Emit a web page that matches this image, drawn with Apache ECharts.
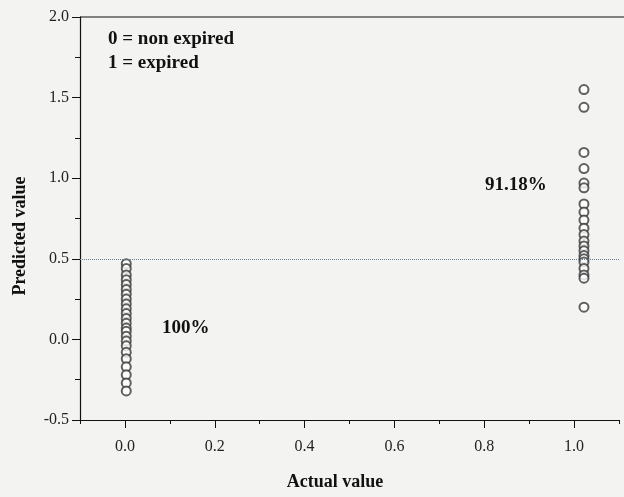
<!DOCTYPE html>
<html>
<head>
<meta charset="utf-8">
<script src="https://cdn.jsdelivr.net/npm/echarts@6/dist/echarts.min.js"></script>
<style>
html,body{margin:0;padding:0;background:#f3f3f1;}
#c{width:624px;height:497px;}
</style>
</head>
<body>
<div id="c"></div>
<script>
// Data
var nonExpiredX = 0.003;
var nonExpiredPred = [0.47, 0.44, 0.40, 0.37, 0.34, 0.31, 0.28, 0.25, 0.22, 0.19, 0.16, 0.13, 0.10, 0.07, 0.05, 0.02, -0.01, -0.04, -0.08, -0.12, -0.17, -0.22, -0.27, -0.32];
var expiredX = 1.022;
var expiredPred = [1.55, 1.44, 1.16, 1.06, 0.97, 0.94, 0.84, 0.79, 0.74, 0.69, 0.65, 0.61, 0.58, 0.55, 0.52, 0.50, 0.48, 0.44, 0.40, 0.38, 0.20];
var xTickLabels = ['0.0', '0.2', '0.4', '0.6', '0.8', '1.0'];
var yTickLabels = ['-0.5', '0.0', '0.5', '1.0', '1.5', '2.0'];
var threshold = 0.5;

var chart = echarts.init(document.getElementById('c'));
var serif = '"Liberation Serif", "DejaVu Serif", serif';

function pts(x, arr){ return arr.map(function(v){ return [x, v]; }); }

// main plot area
var G = {left: 80, right: 5, top: 17, bottom: 77};
var plotW = 624 - G.left - G.right;
var xMin = -0.1, xMax = 1.1;
// secondary grid spanning exactly 0.0 .. 1.0 for the labelled major ticks
var g2left = G.left + (0 - xMin) / (xMax - xMin) * plotW;
var g2width = (1.0 - 0) / (xMax - xMin) * plotW;

chart.setOption({
  backgroundColor: '#f3f3f1',
  animation: false,
  grid: [
    {left: G.left, right: G.right, top: G.top, bottom: G.bottom},
    {left: g2left, width: g2width, top: G.top, bottom: G.bottom}
  ],
  xAxis: [
    {
      gridIndex: 0, type: 'value', min: xMin, max: xMax, interval: 0.1,
      axisLine: {onZero: false, lineStyle: {color: '#111', width: 1.2}},
      axisTick: {show: true, length: 4, lineStyle: {color: '#111'}},
      axisLabel: {show: false},
      splitLine: {show: false}
    },
    {
      gridIndex: 1, type: 'value', min: 0, max: 1, interval: 0.2,
      axisLine: {show: false, onZero: false},
      axisTick: {show: true, length: 8, lineStyle: {color: '#111'}},
      axisLabel: {fontFamily: serif, fontSize: 16, color: '#222', margin: 19,
        formatter: function(v){ return xTickLabels[Math.round(v / 0.2)]; }},
      splitLine: {show: false}
    }
  ],
  yAxis: [
    {
      gridIndex: 0, type: 'value', min: -0.5, max: 2.0, interval: 0.5,
      axisLine: {show: true, onZero: false, lineStyle: {color: '#111', width: 1.2}},
      axisTick: {show: true, length: 8, lineStyle: {color: '#111'}},
      minorTick: {show: true, splitNumber: 2, length: 5, lineStyle: {color: '#111'}},
      axisLabel: {fontFamily: serif, fontSize: 16, color: '#222', margin: 11,
        formatter: function(v){ return yTickLabels[Math.round((v + 0.5) / 0.5)]; }},
      splitLine: {show: false}
    },
    {
      gridIndex: 1, type: 'value', min: -0.5, max: 2.0, show: false
    }
  ],
  series: [
    {
      type: 'scatter', xAxisIndex: 0, yAxisIndex: 0, symbol: 'emptyCircle', symbolSize: 9,
      itemStyle: {color: '#3a3a3a', borderColor: '#3a3a3a', borderWidth: 1},
      data: pts(nonExpiredX, nonExpiredPred),
      markLine: {
        silent: true, symbol: 'none', label: {show: false},
        lineStyle: {type: 'dotted', color: '#6a7a9a', width: 1},
        data: [{yAxis: threshold}]
      }
    },
    {
      type: 'scatter', xAxisIndex: 0, yAxisIndex: 0, symbol: 'emptyCircle', symbolSize: 9,
      itemStyle: {color: '#3a3a3a', borderColor: '#3a3a3a', borderWidth: 1},
      data: pts(expiredX, expiredPred)
    }
  ],
  graphic: [
    {type: 'line', shape: {x1: 80, y1: 17, x2: 624, y2: 17}, style: {stroke: '#111', lineWidth: 1.2}},
    {type: 'text', left: 108, top: 30, style: {text: '0 = non expired', font: 'bold 19px ' + serif, fill: '#111'}},
    {type: 'text', left: 108, top: 54, style: {text: '1 = expired', font: 'bold 19px ' + serif, fill: '#111'}},
    {type: 'text', left: 485, top: 176, style: {text: '91.18%', font: 'bold 19px ' + serif, fill: '#111'}},
    {type: 'text', left: 162, top: 319, style: {text: '100%', font: 'bold 19px ' + serif, fill: '#111'}},
    {type: 'text', x: 20, y: 236, rotation: Math.PI / 2,
      style: {text: 'Predicted value', font: 'bold 18px ' + serif, fill: '#111', textAlign: 'center', textVerticalAlign: 'middle'}},
    {type: 'text', x: 335, y: 482,
      style: {text: 'Actual value', font: 'bold 18px ' + serif, fill: '#111', textAlign: 'center', textVerticalAlign: 'middle'}}
  ]
});
</script>
</body>
</html>
